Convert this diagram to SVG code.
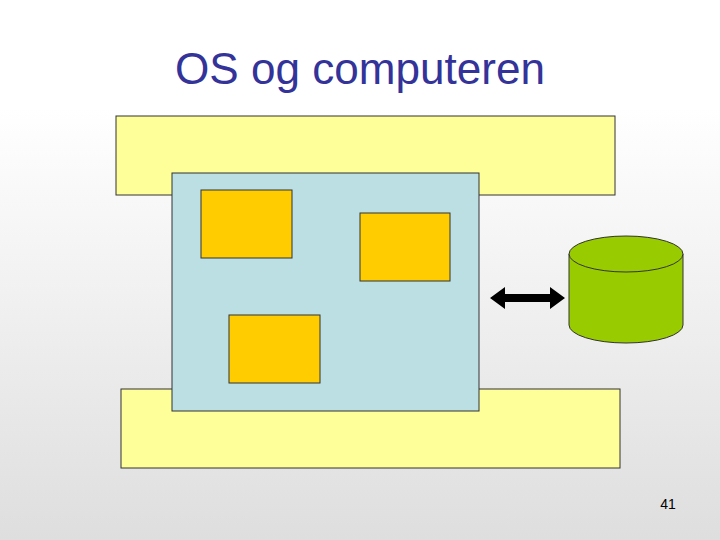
<svg xmlns="http://www.w3.org/2000/svg" width="720" height="540" viewBox="0 0 720 540">
<defs>
<linearGradient id="bg" x1="0" y1="0" x2="0" y2="1">
<stop offset="0" stop-color="#ffffff"/><stop offset="0.2" stop-color="#ffffff"/><stop offset="1" stop-color="#dedede"/>
</linearGradient>
<style>
.y{fill:#ffff99;stroke:#333;stroke-width:1}
.o{fill:#ffcc00;stroke:#333;stroke-width:1}
</style>
</defs>
<rect width="720" height="540" fill="url(#bg)"/>
<text x="360" y="84" text-anchor="middle" font-family="'Liberation Sans', Arial, sans-serif" font-size="44" textLength="370" lengthAdjust="spacingAndGlyphs" fill="#333399">OS og computeren</text>
<g id="top"><rect class="y" x="116" y="116" width="499" height="79"/></g>
<g id="bottom"><rect class="y" x="121" y="389" width="499" height="79"/></g>
<g id="process"><rect x="172" y="173" width="307" height="238" fill="#bbdfe3" stroke="#333"/></g>
<g id="box1"><rect class="o" x="201" y="190" width="91" height="68"/></g>
<g id="box2"><rect class="o" x="360" y="213" width="90" height="68"/></g>
<g id="box3"><rect class="o" x="229" y="315" width="91" height="68"/></g>
<g id="disk">
<path d="M569,254 V325 A57,18 0 0 0 683,325 V254" fill="#99cc00" stroke="#333"/>
<ellipse cx="626" cy="254" rx="57" ry="18" fill="#99cc00" stroke="#333"/>
</g>
<g id="connectors">
<path d="M490,298 L505,287 V294 H550 V287 L565,298 L550,309 V302 H505 V309 Z" fill="#000"/>
</g>
<text x="668" y="509" text-anchor="middle" font-family="'Liberation Sans', Arial, sans-serif" font-size="14" fill="#000">41</text>
</svg>
